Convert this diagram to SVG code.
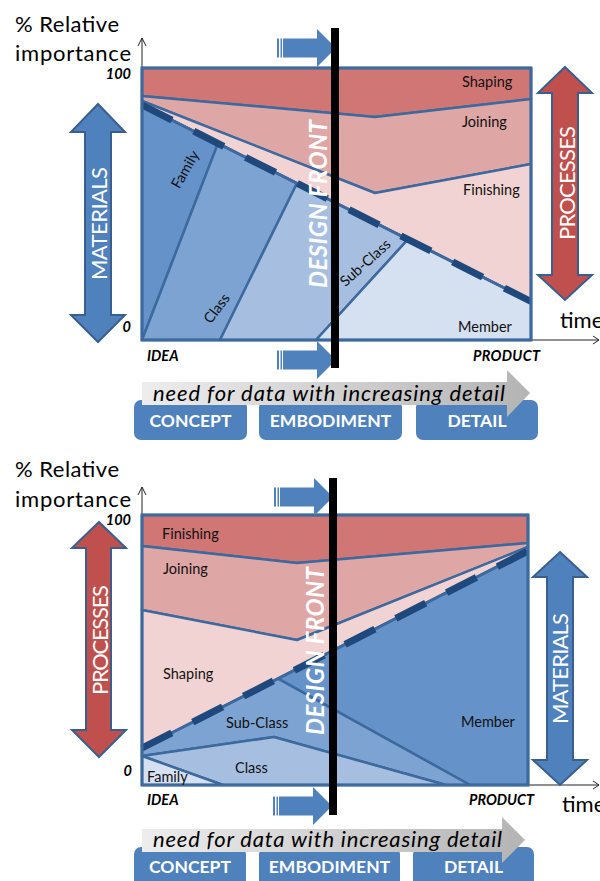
<svg xmlns="http://www.w3.org/2000/svg" width="600" height="881" viewBox="0 0 600 881">
  <defs>
    <style>
      .f{font-family:Lato,"Liberation Sans",sans-serif}
      .lbl{font-size:14.5px;fill:#111}
      .big{font-size:22px;fill:#000}
      .axb{font-size:14.5px;font-weight:bold;font-style:italic;fill:#000}
      .wt{font-size:22px;fill:#fff;text-anchor:middle}
      .front{font-size:24px;font-weight:bold;font-style:italic;fill:#fff;text-anchor:middle}
      .box{fill:#4f81bd}
      .boxtxt{font-size:17.5px;font-weight:bold;fill:#fff;text-anchor:middle}
      .need{font-size:22px;font-style:italic;fill:#000}
      .edge{stroke:#3d6a9e;stroke-width:2.5;stroke-linejoin:round}
      .frame{fill:none;stroke:#3d6a9e;stroke-width:3}
      .r1{fill:#d07675}.r2{fill:#dfa6a6}.r3{fill:#f2d3d3}
      .b1{fill:#6592c9}.b2{fill:#7ca3d2}.b3{fill:#a6bfe0}.b4{fill:#d5e1f1}
      .axis{stroke:#222;stroke-width:1;fill:none}
      .dbase{stroke:#3d6a9e;stroke-width:3;fill:none}
      .dash{stroke:#1f497d;stroke-width:7;fill:none}
      .vblue{fill:#4f81bd;stroke:#3a5f8e;stroke-width:2}
      .vred{fill:#c0504d;stroke:#3a5f8e;stroke-width:2}
      .bar{fill:#000}
    </style>
    <linearGradient id="grey" x1="0" y1="0" x2="1" y2="0">
      <stop offset="0" stop-color="#ededed"/>
      <stop offset="1" stop-color="#b4b4b4"/>
    </linearGradient>
    <!-- striped block arrow, tip at the origin -->
    <path id="push" fill="#4f81bd" d="M-59,-9.5h2v19h-2z M-55.5,-9.5h1.5v19h-1.5z M-53,-9.5H-19V-19L0,0L-19,19V9.5H-53z"/>
  </defs>

  <rect width="600" height="881" fill="#fff"/>

  <!-- ===== upper chart: materials first ===== -->
  <g id="upper-axes">
    <path class="axis" d="M142,340V38 M138,46L142,38L146,46"/>
    <path class="axis" d="M142,340H599 M593,336L599,340L593,344"/>
  </g>

  <g id="upper-processes">
    <polygon class="r1 edge" points="142,68 531,68 531,99 375,117 142,96"/>
    <polygon class="r2 edge" points="142,96 375,117 531,99 531,164 375,193 142,101"/>
    <polygon class="r3 edge" points="142,101 375,193 531,164 531,301.5 142,105"/>
  </g>

  <g id="upper-materials">
    <polygon class="b1 edge" points="142,105 218,143.4 142,340"/>
    <polygon class="b2 edge" points="218,143.4 297,183.3 220,340 142,340"/>
    <polygon class="b3 edge" points="297,183.3 408,239.4 316,340 220,340"/>
    <polygon class="b4 edge" points="408,239.4 531,301.5 531,340 316,340"/>
  </g>

  <g id="upper-boundary">
    <path class="dbase" d="M142,105L531,301.5"/>
    <path class="dash" stroke-dasharray="33.6 24.4" d="M142,105L531,301.5"/>
  </g>

  <rect class="frame" x="142" y="68" width="389" height="272"/>

  <g id="upper-labels" class="f">
    <text class="lbl" x="462" y="87">Shaping</text>
    <text class="lbl" x="462" y="127">Joining</text>
    <text class="lbl" x="463" y="195">Finishing</text>
    <text class="lbl" x="458" y="332">Member</text>
    <text class="lbl" text-anchor="middle" transform="translate(186,170) rotate(-60)" y="4">Family</text>
    <text class="lbl" text-anchor="middle" transform="translate(217.5,309) rotate(-53)" y="4">Class</text>
    <text class="lbl" text-anchor="middle" transform="translate(366,263.5) rotate(-42)" y="4">Sub-Class</text>

    <text class="big" x="15" y="32" textLength="104">% Relative</text>
    <text class="big" x="15" y="61" textLength="116">importance</text>
    <text class="axb" x="131" y="79" text-anchor="end">100</text>
    <text class="axb" x="131" y="332" text-anchor="end">0</text>
    <text class="axb" x="147" y="361">IDEA</text>
    <text class="axb" x="473" y="361" textLength="67">PRODUCT</text>
    <text class="big" x="560" y="328">time</text>
  </g>

  <g id="upper-materials-arrow">
    <path class="vblue" d="M98,104L125,132H111V315H125L98,342L71,315H85V132H71Z"/>
    <text class="f wt" transform="translate(107,223.5) rotate(-90)" textLength="113">MATERIALS</text>
  </g>

  <g id="upper-processes-arrow">
    <path class="vred" d="M565,67L592,93H578V275H592L565,300L538,275H552V93H538Z"/>
    <text class="f wt" transform="translate(575,183) rotate(-90)" textLength="114">PROCESSES</text>
  </g>

  <g id="upper-front">
    <text class="f front" transform="translate(327,204) rotate(-90)" textLength="168">DESIGN FRONT</text>
    <use href="#push" x="336" y="48"/>
    <use href="#push" x="336" y="360"/>
    <rect class="bar" x="331" y="28" width="8" height="340"/>
  </g>

  <g id="upper-stages">
    <rect class="box" x="134" y="400" width="113" height="40" rx="7"/>
    <rect class="box" x="259" y="400" width="143" height="40" rx="7"/>
    <rect class="box" x="416" y="400" width="122" height="40" rx="7"/>
    <path fill="url(#grey)" d="M142,382H507V370L530,393L507,417V405H142Z"/>
    <text class="f need" x="153" y="401" textLength="352">need for data with increasing detail</text>
    <text class="f boxtxt" x="190.5" y="427">CONCEPT</text>
    <text class="f boxtxt" x="330.5" y="427">EMBODIMENT</text>
    <text class="f boxtxt" x="477" y="427">DETAIL</text>
  </g>

  <!-- ===== lower chart: processes first ===== -->
  <g id="lower-axes">
    <path class="axis" d="M142,785V487 M138,495L142,487L146,495"/>
    <path class="axis" d="M142,785H599 M593,781L599,785L593,789"/>
  </g>

  <g id="lower-processes">
    <polygon class="r1 edge" points="142,515 528,515 528,543 297,563 142,546"/>
    <polygon class="r2 edge" points="142,546 297,563 528,543 528,547 297,640 142,610"/>
    <polygon class="r3 edge" points="142,610 297,640 528,547 528,551 142,748"/>
  </g>

  <g id="lower-materials">
    <polygon class="b1 edge" points="278,678.6 528,551 528,785 470,785"/>
    <polygon class="b2 edge" points="142,748 278,678.6 470,785 446,785 274,737 142,756"/>
    <polygon class="b3 edge" points="142,756 274,737 446,785 223,785"/>
    <polygon class="b4 edge" points="142,756 223,785 142,785"/>
  </g>

  <g id="lower-boundary">
    <path class="dbase" d="M142,748L528,551"/>
    <path class="dash" stroke-dasharray="33.5 23.5" d="M142,748L528,551"/>
  </g>

  <rect class="frame" x="142" y="515" width="386" height="270"/>

  <g id="lower-labels" class="f">
    <text class="lbl" x="162" y="539">Finishing</text>
    <text class="lbl" x="163" y="574">Joining</text>
    <text class="lbl" x="163" y="679">Shaping</text>
    <text class="lbl" x="226" y="728">Sub-Class</text>
    <text class="lbl" x="235" y="773">Class</text>
    <text class="lbl" x="147" y="782">Family</text>
    <text class="lbl" x="461" y="727">Member</text>

    <text class="big" x="15" y="477" textLength="104">% Relative</text>
    <text class="big" x="15" y="507" textLength="116">importance</text>
    <text class="axb" x="131" y="525" text-anchor="end">100</text>
    <text class="axb" x="132" y="776" text-anchor="end">0</text>
    <text class="axb" x="147" y="805">IDEA</text>
    <text class="axb" x="469" y="805" textLength="65">PRODUCT</text>
    <text class="big" x="562" y="812">time</text>
  </g>

  <g id="lower-processes-arrow">
    <path class="vred" d="M99,522L126,548H111V730H126L99,757L72,730H86V548H72Z"/>
    <text class="f wt" transform="translate(108,640) rotate(-90)" textLength="110">PROCESSES</text>
  </g>

  <g id="lower-materials-arrow">
    <path class="vblue" d="M560,552L587,577H573V760H587L560,785L533,760H547V577H533Z"/>
    <text class="f wt" transform="translate(568,668.5) rotate(-90)" textLength="111">MATERIALS</text>
  </g>

  <g id="lower-front">
    <text class="f front" transform="translate(324,651) rotate(-90)" textLength="168">DESIGN FRONT</text>
    <use href="#push" x="333" y="497"/>
    <use href="#push" x="332" y="806"/>
    <rect class="bar" x="329" y="478" width="8" height="337"/>
  </g>

  <g id="lower-stages">
    <rect class="box" x="134" y="847" width="112" height="44" rx="7"/>
    <rect class="box" x="259" y="847" width="141" height="44" rx="7"/>
    <rect class="box" x="413" y="847" width="121" height="44" rx="7"/>
    <path fill="url(#grey)" d="M142,829H502V817L525,840L502,863V852H142Z"/>
    <text class="f need" x="153" y="847" textLength="349">need for data with increasing detail</text>
    <text class="f boxtxt" x="190" y="873">CONCEPT</text>
    <text class="f boxtxt" x="329.5" y="873">EMBODIMENT</text>
    <text class="f boxtxt" x="473.5" y="873">DETAIL</text>
  </g>
</svg>
